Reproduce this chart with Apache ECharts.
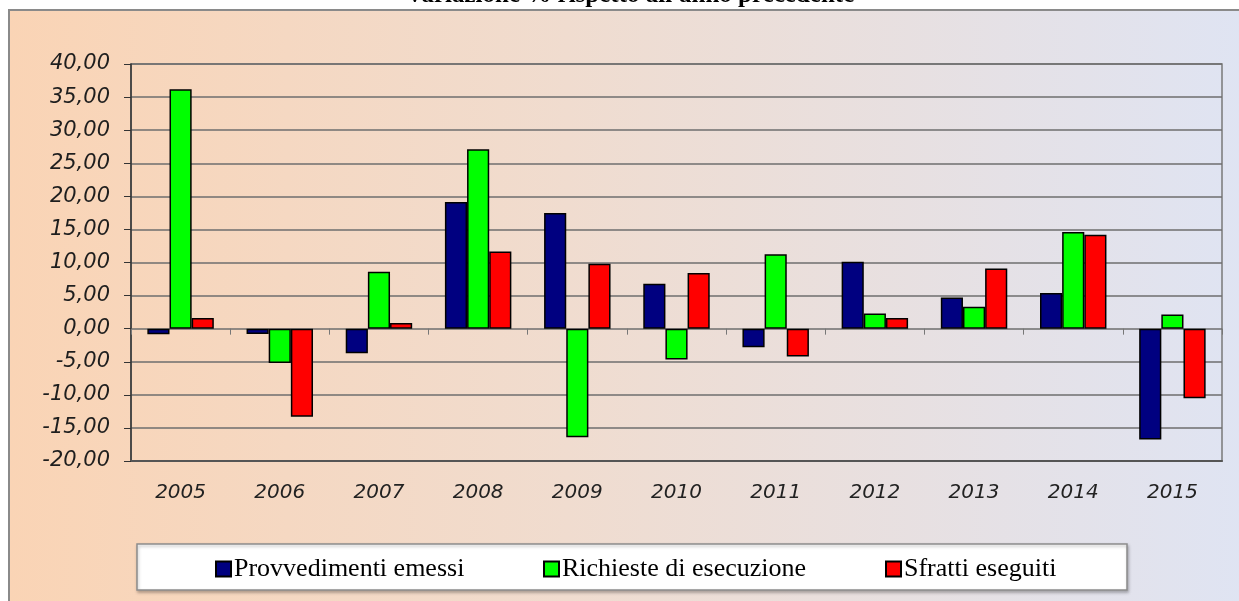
<!DOCTYPE html>
<html>
<head>
<meta charset="utf-8">
<script src="https://cdn.jsdelivr.net/npm/echarts@6/dist/echarts.min.js"></script>
<style>
  html, body { margin: 0; padding: 0; background: #fff; }
  #chart { width: 1239px; height: 601px; }
</style>
</head>
<body>
<div id="chart"></div>
<script>
// dati (variazione % rispetto all'anno precedente)
const anni = ['2005', '2006', '2007', '2008', '2009', '2010', '2011', '2012', '2013', '2014', '2015'];
const provvedimenti = [-0.85, -0.8, -3.7, 19.15, 17.5, 6.8, -2.8, 10.1, 4.7, 5.4, -16.75];
const richieste = [36.2, -5.2, 8.6, 27.1, -16.4, -4.65, 11.25, 2.3, 3.3, 14.6, 2.15];
const sfratti = [1.6, -13.3, 0.85, 11.65, 9.8, 8.4, -4.2, 1.6, 9.1, 14.2, -10.5];
const nomi = ['Provvedimenti emessi', 'Richieste di esecuzione', 'Sfratti eseguiti'];
const colori = ['#000080', '#00ff00', '#ff0000'];

let myChart = echarts.init(document.getElementById('chart'))

function barSeries(name, data, color) {
  return {
    name: name,
    type: 'bar',
    data: data,
    barGap: '0%',
    barCategoryGap: '33%',
    itemStyle: { color: color, borderColor: '#000', borderWidth: 1.5 }
  }
}

// una legenda per voce, per piazzarle come nel box originale
function legendItem(name, left) {
  return {
    data: [name],
    left: left,
    top: 556,
    padding: 0,
    itemWidth: 15,
    itemHeight: 15,
    itemGap: 0,
    icon: 'rect',
    selectedMode: false,
    textStyle: { fontFamily: 'Liberation Serif', fontSize: 26, color: '#000', padding: [0, 0, 0, -2] }
  }
}

let option = {
  animation: false,
  graphic: [
    {
      type: 'rect', z: -10, silent: true,
      shape: { x: 9, y: 10, width: 1240, height: 600 },
      style: {
        fill: new echarts.graphic.LinearGradient(0, 0, 1, 0, [
          { offset: 0, color: '#fad4b5' },
          { offset: 0.45, color: '#f0dccf' },
          { offset: 1, color: '#dfe4f3' }
        ]),
        stroke: '#8a8a8a', lineWidth: 2
      }
    },
    {
      type: 'text', silent: true,
      style: {
        text: "Variazione % rispetto all'anno precedente",
        x: 630, y: 8,
        align: 'center', verticalAlign: 'bottom',
        font: 'bold 25px "Liberation Serif"',
        fill: '#000'
      }
    },
    {
      type: 'rect', z: -5, silent: true,
      shape: { x: 137, y: 544, width: 990, height: 46 },
      style: { fill: '#fff', stroke: '#8c8c8c', lineWidth: 1.5, shadowColor: 'rgba(0,0,0,0.25)', shadowBlur: 3, shadowOffsetX: 1, shadowOffsetY: 2 }
    }
  ],
  legend: [
    legendItem(nomi[0], 215),
    legendItem(nomi[1], 543),
    legendItem(nomi[2], 885)
  ],
  grid: { left: 131, right: 17, top: 64, bottom: 140, show: true, borderColor: '#7a7a7a', borderWidth: 1.5 },
  xAxis: [
    {
      type: 'category',
      data: anni,
      position: 'bottom',
      axisLine: { onZero: false, lineStyle: { color: '#555', width: 2 } },
      axisTick: { show: false },
      axisLabel: { margin: 22, fontFamily: 'DejaVu Sans', fontStyle: 'italic', fontSize: 20, color: '#222' }
    },
    {
      type: 'category',
      data: anni,
      position: 'bottom',
      axisLine: { show: false, onZero: true },
      axisTick: { show: true, length: 6, lineStyle: { color: '#777' } },
      axisLabel: { show: false }
    }
  ],
  yAxis: {
    type: 'value',
    min: -20,
    max: 40,
    interval: 5,
    axisLine: { show: true, lineStyle: { color: '#333', width: 1.5 } },
    axisTick: { show: true, length: 7, lineStyle: { color: '#333' } },
    axisLabel: {
      margin: 21,
      fontFamily: 'DejaVu Sans', fontStyle: 'italic', fontSize: 21, color: '#1e1e1e',
      formatter: (v) => v.toFixed(2).replace('.', ',')
    },
    splitLine: { lineStyle: { color: '#6e6e6e', width: 1.5 } }
  },
  series: [
    barSeries(nomi[0], provvedimenti, colori[0]),
    barSeries(nomi[1], richieste, colori[1]),
    barSeries(nomi[2], sfratti, colori[2])
  ]
};

option && myChart.setOption(option)
</script>
</body>
</html>
